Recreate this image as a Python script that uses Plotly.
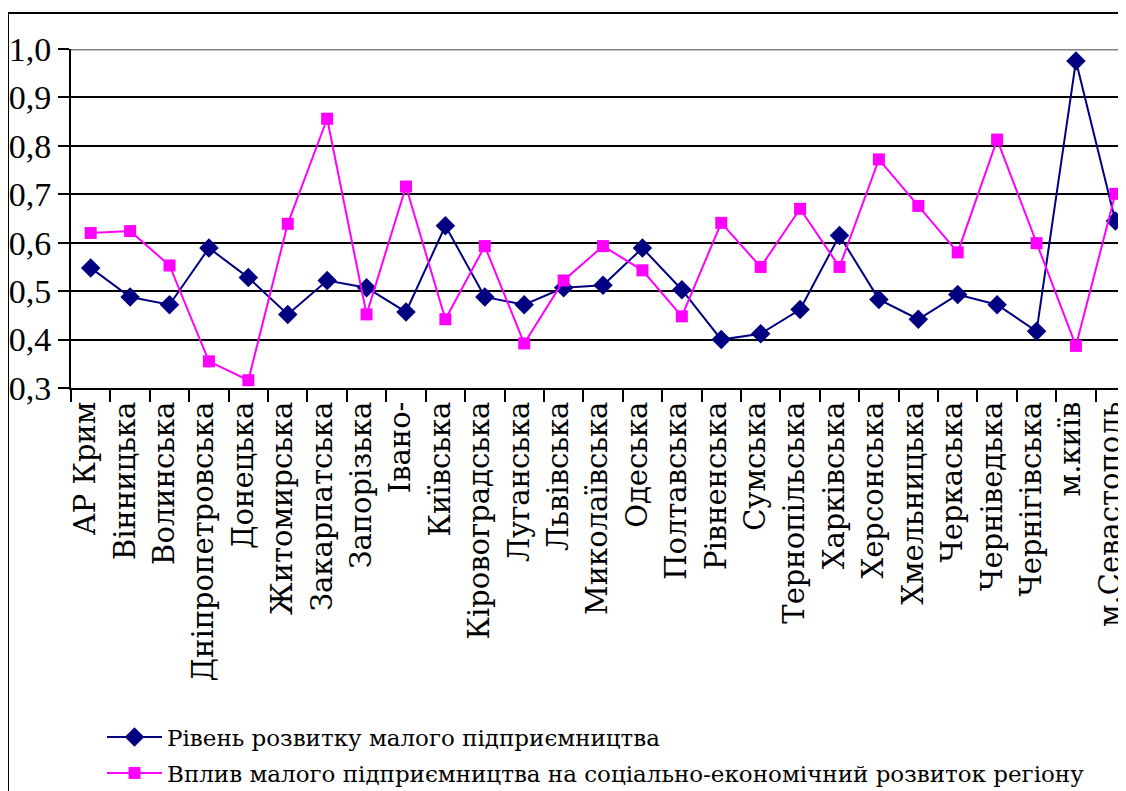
import plotly.graph_objects as go

regions = ["АР Крим", "Вінницька", "Волинська", "Дніпропетровська", "Донецька",
           "Житомирська", "Закарпатська", "Запорізька", "Івано-", "Київська",
           "Кіровоградська", "Луганська", "Львівська", "Миколаївська", "Одеська",
           "Полтавська", "Рівненська", "Сумська", "Тернопільська", "Харківська",
           "Херсонська", "Хмельницька", "Черкаська", "Черніведька", "Чернігівська",
           "м.київ", "м.Севастополь"]

level = [0.548, 0.488, 0.472, 0.589, 0.528, 0.452, 0.522, 0.507, 0.457, 0.635,
         0.488, 0.472, 0.507, 0.512, 0.589, 0.503, 0.400, 0.412, 0.462, 0.615,
         0.483, 0.442, 0.493, 0.472, 0.417, 0.975, 0.645]

impact = [0.620, 0.624, 0.553, 0.355, 0.316, 0.639, 0.856, 0.452, 0.716, 0.442,
          0.593, 0.392, 0.522, 0.593, 0.543, 0.448, 0.641, 0.550, 0.670, 0.550,
          0.772, 0.676, 0.580, 0.813, 0.599, 0.387, 0.701]

series_names = ["Рівень розвитку малого підприємництва",
                "Вплив малого підприємництва на соціально-економічний розвиток регіону"]

# page body has an 8px margin; figure coords = screen coords - 8
OFF = 8
W, H = 1126 - OFF, 791 - OFF
ML, MR, MT = 71 - OFF, 0, 49 - OFF
MB = H - (388 - OFF)
pw, ph = W - ML - MR, H - MT - MB

def px_x(sx):
    return (sx - OFF - ML) / pw

def px_y(sy):
    return (MT + ph - (sy - OFF)) / ph

fig = go.Figure()
fig.add_trace(go.Scatter(x=regions, y=level, name=series_names[0], mode="lines+markers",
                         line=dict(color="#000080", width=2), legend="legend",
                         marker=dict(symbol="diamond", size=15, color="#000080")))
fig.add_trace(go.Scatter(x=regions, y=impact, name=series_names[1], mode="lines+markers",
                         line=dict(color="#FF00FF", width=2), legend="legend2",
                         marker=dict(symbol="square", size=12, color="#FF00FF")))

serif_cyr = "DejaVu Serif"
serif_num = "Liberation Serif"
leg_common = dict(xanchor="left", yanchor="middle",
                  font=dict(family=serif_cyr, size=23, color="black"),
                  bgcolor="rgba(0,0,0,0)", itemwidth=55, tracegroupgap=0)

fig.update_layout(
    width=W, height=H,
    margin=dict(l=ML, r=MR, t=MT, b=MB, autoexpand=False),
    paper_bgcolor="white", plot_bgcolor="white",
    separators=", ",
    font=dict(family=serif_cyr, color="black"),
    showlegend=True,
    legend=dict(x=px_x(102), y=px_y(737), **leg_common),
    legend2=dict(x=px_x(102), y=px_y(773), **leg_common),
    xaxis=dict(type="category", range=[-0.5, 26.27], tickangle=-90, dtick=1,
               tickson="boundaries", ticks="outside", ticklen=12, tickwidth=2,
               ticklabelshift=-5,
               tickcolor="black", showline=True, linecolor="black", linewidth=2,
               showgrid=False, tickfont=dict(family=serif_cyr, size=29, color="black")),
    yaxis=dict(range=[0.3, 1.0], dtick=0.1, tick0=0.3, tickformat=".1f",
               ticks="outside", ticklen=11, tickwidth=2, tickcolor="black",
               showline=True, linecolor="black", linewidth=2,
               showgrid=True, gridcolor="black", gridwidth=2, zeroline=False,
               tickfont=dict(family=serif_num, size=34, color="black")),
    shapes=[
        dict(type="line", xref="paper", yref="y", x0=0, x1=1, y0=1.0, y1=1.0,
             line=dict(color="#808080", width=3), layer="above"),
        dict(type="rect", xref="paper", yref="paper",
             x0=px_x(8), x1=px_x(1126 + 20),
             y0=px_y(791 + 20), y1=px_y(13),
             line=dict(color="black", width=2), fillcolor="rgba(0,0,0,0)", layer="below"),
    ],
)

fig.write_html("out.html")
